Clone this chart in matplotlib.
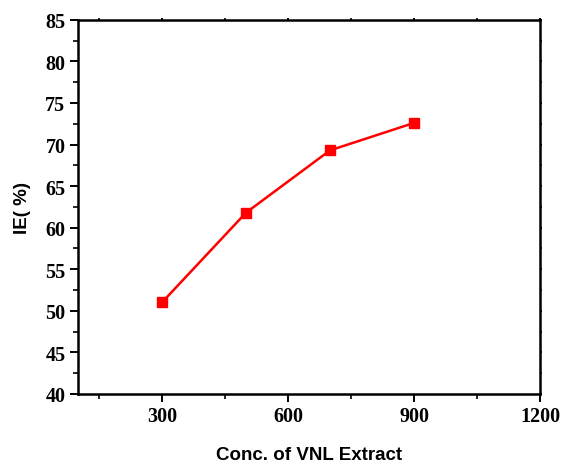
import matplotlib
matplotlib.use('Agg')
import matplotlib.pyplot as plt
from matplotlib.ticker import MultipleLocator

# data
conc = [300, 500, 700, 900]
ie = [51.0, 61.8, 69.3, 72.6]

RED = '#ff0000'

fig = plt.figure(figsize=(5.61, 4.64), dpi=100)
ax = fig.add_axes([0.139, 0.149, 0.8236, 0.806])

ax.plot(conc, ie, color=RED, linewidth=1.8, marker='s', markersize=6.5)

ax.set_xlim(100, 1200)
ax.set_ylim(40, 85)
ax.xaxis.set_major_locator(MultipleLocator(300))
ax.xaxis.set_minor_locator(MultipleLocator(150))
ax.yaxis.set_major_locator(MultipleLocator(5))
ax.yaxis.set_minor_locator(MultipleLocator(2.5))

for s in ax.spines.values():
	s.set_linewidth(1.8)

ax.tick_params(which='major', direction='out', length=6, width=1.4, labelsize=14.5, pad=3)
ax.tick_params(which='minor', direction='out', length=3.5, width=1.2)
ax.tick_params(which='both', top=True, right=True, labeltop=False, labelright=False)
for t in ax.xaxis.get_ticklines(minor=False)[1::2] + ax.yaxis.get_ticklines(minor=False)[1::2]:
	t.set_markersize(1.5)
for t in ax.xaxis.get_ticklines(minor=True)[1::2] + ax.yaxis.get_ticklines(minor=True)[1::2]:
	t.set_markersize(1.5)

for lab in ax.get_xticklabels() + ax.get_yticklabels():
	lab.set_family('Liberation Serif')
	lab.set_fontweight('bold')

ax.set_xlabel('Conc. of VNL Extract', family='Liberation Sans', fontweight='bold', fontsize=13.5, labelpad=14)
ax.set_ylabel('IE( %)', family='Liberation Sans', fontweight='bold', fontsize=13.5, labelpad=10)

fig.savefig('out.png', dpi=100)
